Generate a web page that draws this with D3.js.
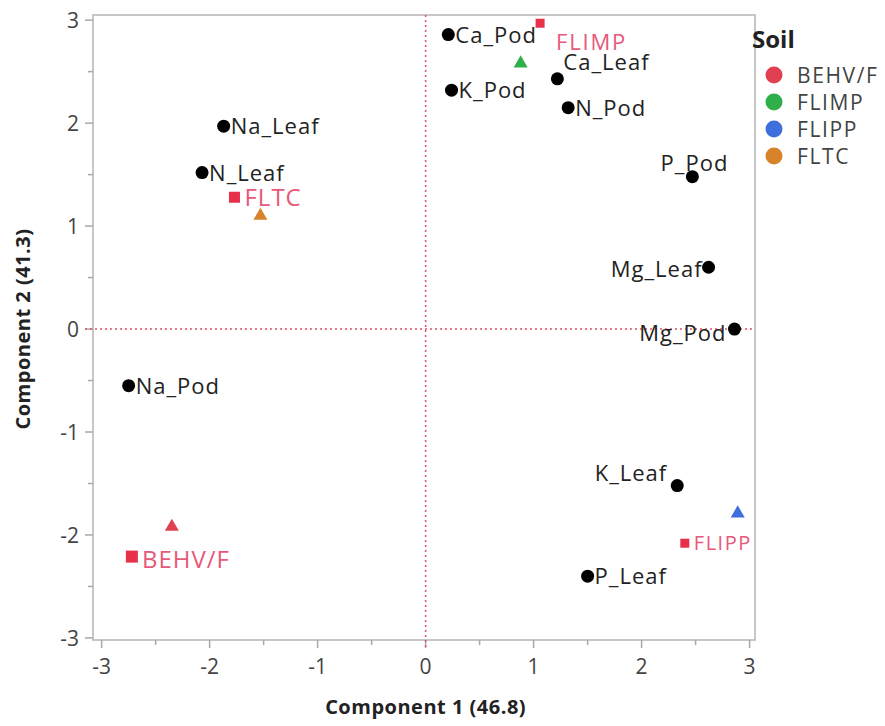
<!DOCTYPE html>
<html>
<head>
<meta charset="utf-8">
<script src="https://cdn.jsdelivr.net/npm/d3@7"></script>
<style>
  body { margin: 0; background: #fff; }
  text { font-family: "Open Sans", "Noto Sans", sans-serif; }
</style>
</head>
<body>
<div id="main"></div>
<script>
const ctx = {
    w: 885,
    h: 726,
    left: 93,
    right: 755,
    top: 15,
    bottom: 640,
};

// loading variables (black dots)
const varNames = ["Ca_Pod", "Ca_Leaf", "K_Pod", "N_Pod", "P_Pod", "Mg_Leaf", "Mg_Pod",
                  "Na_Leaf", "N_Leaf", "Na_Pod", "K_Leaf", "P_Leaf"];
const varX = [0.21, 1.22, 0.24, 1.32, 2.47, 2.62, 2.86, -1.87, -2.07, -2.75, 2.33, 1.50];
const varY = [2.86, 2.43, 2.32, 2.15, 1.48, 0.60, 0.00, 1.97, 1.52, -0.55, -1.52, -2.40];

// soil groups: labelled squares and coloured triangles
const soils = ["BEHV/F", "FLIMP", "FLIPP", "FLTC"];
const soilColors = ["#e0404f", "#2fae4a", "#3e6fdc", "#d8822a"];
const soilSqX = [-2.72, 1.06, 2.40, -1.77];
const soilSqY = [-2.21, 2.97, -2.08, 1.28];
const soilTriX = [-2.35, 0.88, 2.89, -1.53];
const soilTriY = [-1.92, 2.58, -1.79, 1.10];

const xTicks = [-3, -2, -1, 0, 1, 2, 3];
const yTicks = [-3, -2, -1, 0, 1, 2, 3];

// label placement (style only)
const labelPos = {
    "P_Pod":   {dx: 36, dy: -6, anchor: "end"},
    "Mg_Leaf": {dx: -6, dy: 10, anchor: "end"},
    "Mg_Pod":  {dx: -8, dy: 12, anchor: "end"},
    "K_Leaf":  {dx: -10, dy: -5, anchor: "end"},
    "Ca_Leaf": {dx: 6, dy: -9, anchor: "start"},
};
const sqStyle = [
    {size: 12, font: 24, ls: 1, dx: 10, dy: 11},
    {size: 9, font: 22, ls: 1.8, dx: 16, dy: 27},
    {size: 9, font: 20, ls: 1.5, dx: 9, dy: 7},
    {size: 11, font: 24, ls: 1, dx: 10, dy: 9},
];

function createViz() {
    let svg = d3.select("#main").append("svg")
        .attr("width", ctx.w)
        .attr("height", ctx.h);

    let x = d3.scaleLinear().domain([-3.08, 3.05]).range([ctx.left, ctx.right]);
    let y = d3.scaleLinear().domain([-3.02, 3.05]).range([ctx.bottom, ctx.top]);

    // frame
    svg.append("rect")
        .attr("x", ctx.left).attr("y", ctx.top)
        .attr("width", ctx.right - ctx.left).attr("height", ctx.bottom - ctx.top)
        .style("fill", "none").style("stroke", "#b5b5b5").style("stroke-width", 1.5);

    // axes
    let minor = d3.range(-3, 3.01, 0.5);
    let xAxis = svg.append("g").attr("transform", `translate(0,${ctx.bottom})`);
    xAxis.selectAll("line").data(minor).enter().append("line")
        .attr("x1", d => x(d)).attr("x2", d => x(d))
        .attr("y1", 0).attr("y2", d => Number.isInteger(d) ? 8 : 5)
        .style("stroke", "#a8a8a8").style("stroke-width", 1.5);
    xAxis.selectAll("text").data(xTicks).enter().append("text")
        .attr("x", d => x(d)).attr("y", 34)
        .attr("text-anchor", "middle")
        .style("font-size", "21px").style("fill", "#444")
        .text(d => d);

    let yAxis = svg.append("g").attr("transform", `translate(${ctx.left},0)`);
    yAxis.selectAll("line").data(minor).enter().append("line")
        .attr("y1", d => y(d)).attr("y2", d => y(d))
        .attr("x1", 0).attr("x2", d => Number.isInteger(d) ? -8 : -5)
        .style("stroke", "#a8a8a8").style("stroke-width", 1.5);
    yAxis.selectAll("text").data(yTicks).enter().append("text")
        .attr("x", -14).attr("y", d => y(d) + 8)
        .attr("text-anchor", "end")
        .style("font-size", "21px").style("fill", "#444")
        .text(d => d);

    // axis titles
    svg.append("text")
        .attr("x", x(0)).attr("y", 714)
        .attr("text-anchor", "middle")
        .style("font-size", "20px").style("font-weight", "bold").style("fill", "#222")
        .style("letter-spacing", "0.5px")
        .text("Component 1 (46.8)");
    svg.append("text")
        .attr("transform", `translate(30,${y(0)}) rotate(-90)`)
        .attr("text-anchor", "middle")
        .style("font-size", "20px").style("font-weight", "bold").style("fill", "#222")
        .style("letter-spacing", "0.5px")
        .text("Component 2 (41.3)");

    // reference lines at zero
    svg.append("line")
        .attr("x1", x(0)).attr("x2", x(0)).attr("y1", ctx.top).attr("y2", ctx.bottom + 8)
        .style("stroke", "#e0506a").style("stroke-width", 1.5).style("stroke-dasharray", "2,3");
    svg.append("line")
        .attr("x1", ctx.left - 8).attr("x2", ctx.right).attr("y1", y(0)).attr("y2", y(0))
        .style("stroke", "#e0506a").style("stroke-width", 1.5).style("stroke-dasharray", "2,3");

    // triangles
    let tri = d3.symbol().type(d3.symbolTriangle).size(85);
    svg.selectAll(".tri").data(soils).enter().append("path")
        .attr("class", "tri")
        .attr("d", tri)
        .attr("transform", (d, i) => `translate(${x(soilTriX[i])},${y(soilTriY[i])})`)
        .style("fill", (d, i) => soilColors[i]);

    // variable points
    let pts = svg.selectAll(".var").data(varNames).enter().append("g")
        .attr("class", "var")
        .attr("transform", (d, i) => `translate(${x(varX[i])},${y(varY[i])})`);
    pts.append("circle").attr("r", 6.5).style("fill", "#000");
    pts.append("text")
        .attr("x", d => labelPos[d] ? labelPos[d].dx : 7)
        .attr("y", d => labelPos[d] ? labelPos[d].dy : 8)
        .attr("text-anchor", d => labelPos[d] ? labelPos[d].anchor : "start")
        .style("font-size", "22px").style("fill", "#222")
        .style("letter-spacing", "1px")
        .text(d => d);

    // soil squares
    let sq = svg.selectAll(".sq").data(soils).enter().append("g")
        .attr("class", "sq")
        .attr("transform", (d, i) => `translate(${x(soilSqX[i])},${y(soilSqY[i])})`);
    sq.append("rect")
        .attr("x", (d, i) => -sqStyle[i].size / 2).attr("y", (d, i) => -sqStyle[i].size / 2)
        .attr("width", (d, i) => sqStyle[i].size).attr("height", (d, i) => sqStyle[i].size)
        .style("fill", "#e8304a");
    sq.append("text")
        .attr("x", (d, i) => sqStyle[i].dx).attr("y", (d, i) => sqStyle[i].dy)
        .style("font-size", (d, i) => sqStyle[i].font + "px")
        .style("letter-spacing", (d, i) => sqStyle[i].ls + "px")
        .style("fill", "#e8587a")
        .text(d => d);

    // legend
    let lg = svg.append("g").attr("transform", "translate(752,0)");
    lg.append("text").attr("x", 0).attr("y", 48)
        .style("font-size", "24px").style("font-weight", "bold").style("fill", "#222")
        .text("Soil");
    let items = lg.selectAll(".item").data(soils).enter().append("g")
        .attr("transform", (d, i) => `translate(0,${75 + i * 27})`);
    items.append("circle").attr("cx", 22).attr("r", 8.5).style("fill", (d, i) => soilColors[i]);
    items.append("text").attr("x", 45).attr("y", 8)
        .style("font-size", "21px").style("fill", "#444")
        .style("letter-spacing", "1.6px")
        .text(d => d);
}

createViz();
</script>
</body>
</html>
